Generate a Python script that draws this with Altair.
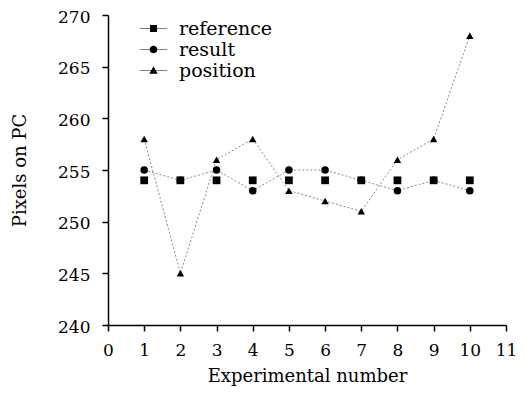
import altair as alt
import pandas as pd

experiments = [1, 2, 3, 4, 5, 6, 7, 8, 9, 10]
reference = [254, 254, 254, 254, 254, 254, 254, 254, 254, 254]
result = [255, 254, 255, 253, 255, 255, 254, 253, 254, 253]
position = [258, 245, 256, 258, 253, 252, 251, 256, 258, 268]
series_names = ["reference", "result", "position"]
x_ticks = list(range(0, 12))
y_ticks = [240, 245, 250, 255, 260, 265, 270]

rows = []
for name, vals in zip(series_names, [reference, result, position]):
    for x, v in zip(experiments, vals):
        rows.append({"x": x, "y": v, "series": name})
df = pd.DataFrame(rows)

FONT = "DejaVu Serif"
xenc = alt.X("x:Q", scale=alt.Scale(domain=[0, 11], nice=False),
             axis=alt.Axis(values=x_ticks, title="Experimental number", grid=False,
                           labelFont=FONT, titleFont=FONT, labelFontSize=17, titleFontSize=18,
                           titleFontWeight="normal", labelColor="black", titleColor="black",
                           domainColor="black", tickColor="black", domainWidth=1.5, tickWidth=1.5,
                           tickSize=6, labelPadding=11, titlePadding=9, labelFlush=False))
yenc = alt.Y("y:Q", scale=alt.Scale(domain=[240, 270], nice=False, zero=False),
             axis=alt.Axis(values=y_ticks, title="Pixels on PC", grid=False,
                           labelFont=FONT, titleFont=FONT, labelFontSize=17, titleFontSize=18,
                           titleFontWeight="normal", labelColor="black", titleColor="black",
                           domainColor="black", tickColor="black", domainWidth=1.5, tickWidth=1.5,
                           tickSize=6, labelPadding=12, titlePadding=28, labelBaseline="top",
                           labelOffset=-6, labelFlush=False))

lines = alt.Chart(df).transform_filter(alt.datum.series != "reference").mark_line(
    color="#8a8a8a", strokeWidth=1, strokeDash=[2, 2]
).encode(x=xenc, y=yenc, detail="series:N")

points = alt.Chart(df).mark_point(filled=True, color="black", opacity=1).encode(
    x=xenc, y=yenc,
    shape=alt.Shape("series:N", sort=series_names,
                    scale=alt.Scale(domain=series_names, range=["square", "circle", "triangle-up"]),
                    legend=None),
    size=alt.Size("series:N", sort=series_names,
                  scale=alt.Scale(domain=series_names, range=[60, 55, 70]), legend=None),
)

line_bar = "M-3.9,-0.1H3.9V0.1H-3.9Z"
legend_paths = [
    line_bar + "M-1,-1H1V1H-1Z",
    line_bar + "M1.1,0A1.1,1.1,0,1,1,-1.1,0A1.1,1.1,0,1,1,1.1,0Z",
    line_bar + "M0,-1.2L1.2,0.9H-1.2Z",
]
legend_layer = alt.Chart(df).mark_point(filled=True, color="black", opacity=0).encode(
    x=xenc, y=yenc,
    shape=alt.Shape("series:N", sort=series_names, title=None,
                    scale=alt.Scale(domain=series_names, range=legend_paths),
                    legend=alt.Legend(orient="none", legendX=36, legendY=4, title=None,
                                      labelFont=FONT, labelFontSize=19, labelColor="black",
                                      symbolSize=49, symbolFillColor="black",
                                      symbolOpacity=1, labelOffset=16, rowPadding=1,
                                      padding=0)),
)

chart = alt.layer(lines, points, legend_layer).resolve_scale(shape="independent").properties(
    width=398, height=310,
    autosize=alt.AutoSizeParams(type="none"),
    padding={"left": 100, "top": 7, "right": 11, "bottom": 63},
    background="white",
).configure_view(stroke=None)

chart.save("out.html", embed_options={"renderer": "svg", "actions": False})
